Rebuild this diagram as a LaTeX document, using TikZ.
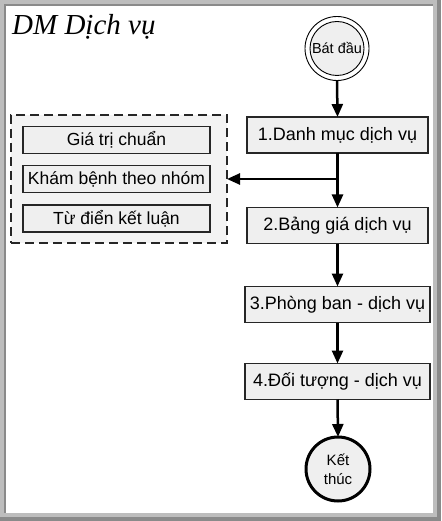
\documentclass[tikz,border=0pt]{standalone}
\usepackage{fontspec}
\setmainfont{Liberation Sans}
\newfontfamily\titlefont{Liberation Serif}
\usetikzlibrary{arrows.meta}
\definecolor{framelight}{HTML}{BDBDBD}
\definecolor{framedark}{HTML}{8A8A8A}
\definecolor{boxfill}{HTML}{EFEFEF}
\definecolor{groupfill}{HTML}{F3F3F3}
\tikzset{
  stepbox/.style={draw=black!85, line width=1.3pt, fill=boxfill, inner sep=0pt, outer sep=0pt,
    minimum height=36pt, font=\fontsize{18}{20}\selectfont},
  subbox/.style={draw=black!85, line width=1.3pt, fill=boxfill, inner sep=0pt, outer sep=0pt,
    minimum width=187pt, minimum height=27pt, font=\fontsize{17.5}{20}\selectfont},
  flow/.style={line width=2.5pt, -{Triangle[length=13pt,width=11pt]}},
}
\begin{document}
\begin{tikzpicture}[x=1pt,y=-1pt]
\useasboundingbox (0,0) rectangle (441,521);
% frame
\fill[framedark] (0,0) rectangle (441,521);
\fill[framelight] (0,0) rectangle (437,517);
\fill[framedark] (4,4) rectangle (433,513);
\fill[white] (6,6) rectangle (433,513);
% title
\node[anchor=base west, inner sep=0pt, font=\titlefont\itshape\fontsize{29}{31}\selectfont] (title) at (12,35) {DM Dịch vụ};
% start
\node[circle, draw=black, line width=0.9pt, minimum size=64pt, inner sep=0pt, outer sep=0pt] (startring) at (337,48.5) {};
\node[circle, draw=black, line width=0.9pt, fill=boxfill, minimum size=54pt, inner sep=0pt, font=\fontsize{14.5}{16}\selectfont] (start) at (337,48.5) {Bát đầu};
% main boxes
\node[stepbox, minimum width=181pt] (b1) at (337.5,135) {1.Danh mục dịch vụ};
\node[stepbox, minimum width=181pt] (b2) at (337.5,225.5) {2.Bảng giá dịch vụ};
\node[stepbox, minimum width=185pt] (b3) at (337.5,304.5) {3.Phòng ban - dịch vụ};
\node[stepbox, minimum width=185pt] (b4) at (337.5,381.5) {4.Đối tượng - dịch vụ};
% end
\node[circle, draw=black, line width=3pt, fill=boxfill, minimum size=64pt, inner sep=0pt, outer sep=0pt, align=center, font=\fontsize{15}{19}\selectfont] (end) at (338,469) {Kết\\thúc};
% group
\node[draw=black!85, dashed, dash pattern=on 9pt off 5pt, line width=1.5pt, fill=groupfill, minimum width=216pt, minimum height=128pt, inner sep=0pt, outer sep=0pt] (group) at (119,179) {};
\node[subbox] (g1) at (116.5,140) {Giá trị chuẩn};
\node[subbox] (g2) at (116.5,179) {Khám bệnh theo nhóm};
\node[subbox] (g3) at (116.5,218.5) {Từ điển kết luận};
% connectors
\coordinate (branch) at (b1.south |- g2);
\draw[flow] (startring.south) -- (b1.north);
\draw[flow] (b1.south) -- (b2.north);
\draw[flow] (branch) -- (group.east |- branch);
\draw[flow] (b2.south) -- (b3.north);
\draw[flow] (b3.south) -- (b4.north);
\draw[flow] (b4.south) -- (end.north);
\end{tikzpicture}
\end{document}
